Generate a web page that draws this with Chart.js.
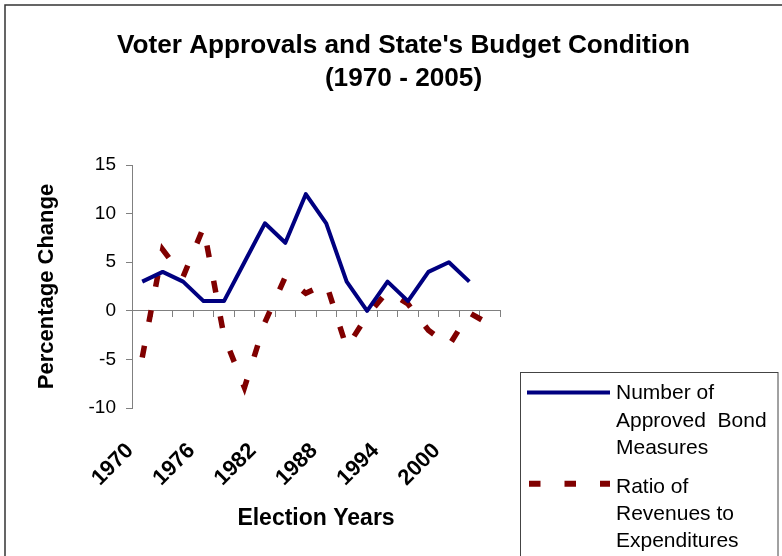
<!DOCTYPE html>
<html>
<head>
<meta charset="utf-8">
<title>Voter Approvals and State's Budget Condition</title>
<script src="https://cdn.jsdelivr.net/npm/chart.js@4.4.1/dist/chart.umd.min.js"></script>
<style>
  html, body { margin: 0; padding: 0; background: #fff; }
  #line-chart { display: block; }
</style>
</head>
<body>
<canvas id="line-chart" width="782" height="556"></canvas>
<script>
  // election years, every two years
  var years = ['1970', '1972', '1974', '1976', '1978', '1980', '1982', '1984', '1986',
               '1988', '1990', '1992', '1994', '1996', '1998', '2000', '2002', '2004'];
  // only every third year gets a label under the axis
  var year_labels = ['1970', '1976', '1982', '1988', '1994', '2000'];
  var bond_measures = [3, 4, 3, 1, 1, 5, 9, 7, 12, 9, 3, 0, 3, 1, 4, 5, 3, null];
  var revenue_ratio = [-4.8, 6.3, 3.5, 8.6, -2.6, -7.9, -1.2, 3.5, 1.8, 2.8, -3.8, -0.5, 2, 0.7, -2, -3.6, -0.2, -1.4];
  var y_ticks = [-10, -5, 0, 5, 10, 15];

  var judul = ["Voter Approvals and State's Budget Condition", '(1970 - 2005)'];
  var legend_bond = ['Number of', 'Approved  Bond', 'Measures'];
  var legend_ratio = ['Ratio of', 'Revenues to', 'Expenditures'];

  var font_name = '"Liberation Sans", Arial, Helvetica, sans-serif';
  var gray = '#808080';

  // frame, big title and the boxed legend are drawn by hand
  var frame_plugin = {
    id: 'frame',
    beforeDraw: function (chart) {
      var ctx = chart.ctx;
      ctx.save();
      ctx.fillStyle = '#fff';
      ctx.fillRect(0, 0, chart.width, chart.height);
      ctx.strokeStyle = '#333';
      ctx.lineWidth = 1.5;
      ctx.strokeRect(5, 5, chart.width + 20, chart.height + 20);

      ctx.fillStyle = '#000';
      ctx.font = 'bold 26.2px ' + font_name;
      ctx.textAlign = 'center';
      ctx.textBaseline = 'alphabetic';
      ctx.fillText(judul[0], 403.5, 53);
      ctx.fillText(judul[1], 403.5, 86);
      ctx.restore();
    },
    afterDraw: function (chart) {
      var ctx = chart.ctx;
      var ds = chart.data.datasets;
      ctx.save();
      ctx.strokeStyle = '#444';
      ctx.lineWidth = 1;
      ctx.strokeRect(520.5, 372.5, 257.5, 220);

      // blue solid sample
      ctx.strokeStyle = ds[0].borderColor;
      ctx.lineWidth = ds[0].borderWidth;
      ctx.beginPath();
      ctx.moveTo(527, 392.5);
      ctx.lineTo(610, 392.5);
      ctx.stroke();

      // red dashed sample
      ctx.strokeStyle = ds[1].borderColor;
      ctx.lineWidth = 6;
      ctx.setLineDash([11.5, 24]);
      ctx.beginPath();
      ctx.moveTo(529, 483.7);
      ctx.lineTo(610, 483.7);
      ctx.stroke();
      ctx.setLineDash([]);

      ctx.fillStyle = '#000';
      ctx.font = '21px ' + font_name;
      ctx.textAlign = 'left';
      ctx.textBaseline = 'alphabetic';
      for (var i = 0; i < legend_bond.length; i++) {
        ctx.fillText(legend_bond[i], 616, 399 + i * 27.6);
      }
      for (var j = 0; j < legend_ratio.length; j++) {
        ctx.fillText(legend_ratio[j], 616, 493.3 + j * 27);
      }
      ctx.restore();
    }
  };

  new Chart(document.getElementById('line-chart'), {
    type: 'line',
    data: {
      labels: years,
      datasets: [
        {
          label: 'Number of Approved Bond Measures',
          data: bond_measures,
          borderColor: '#000080',
          borderWidth: 4,
          borderJoinStyle: 'round',
          pointRadius: 0,
          tension: 0,
          fill: false
        },
        {
          label: 'Ratio of Revenues to Expenditures',
          data: revenue_ratio,
          borderColor: '#800000',
          borderWidth: 5.5,
          borderDash: [12, 24],
          borderCapStyle: 'butt',
          pointRadius: 0,
          tension: 0,
          fill: false
        }
      ]
    },
    options: {
      responsive: false,
      animation: false,
      devicePixelRatio: 1,
      layout: {
        padding: { left: 20, top: 165, right: 282, bottom: 0 }
      },
      plugins: {
        legend: { display: false },
        title: { display: false },
        tooltip: { enabled: false }
      },
      scales: {
        x: {
          type: 'category',
          position: 'bottom',
          offset: true,
          grid: { display: false, drawTicks: false },
          border: { display: false },
          ticks: {
            autoSkip: false,
            maxRotation: 45,
            minRotation: 45,
            padding: 30,
            labelOffset: -12,
            color: '#000',
            font: { family: font_name, size: 22, weight: 'bold' },
            callback: function (val, i) {
              return year_labels.indexOf(years[i]) >= 0 ? years[i] : '';
            }
          },
          title: {
            display: true,
            text: 'Election Years',
            color: '#000',
            font: { family: font_name, size: 23, weight: 'bold' },
            padding: { top: 0, bottom: 24 }
          },
          afterFit: function (scale) { scale.height = 148; }
        },
        // zero line with the small category ticks hanging below it
        x0: {
          type: 'category',
          axis: 'x',
          position: { y: 0 },
          offset: true,
          grid: {
            offset: true,
            drawOnChartArea: false,
            drawTicks: true,
            tickLength: 6,
            color: gray,
            tickColor: gray
          },
          border: { display: true, color: gray, width: 1 },
          ticks: { display: false },
          afterFit: function (scale) { scale.height = 0; }
        },
        y: {
          min: -10,
          max: 15,
          afterBuildTicks: function (scale) {
            scale.ticks = y_ticks.map(function (v) { return { value: v }; });
          },
          grid: {
            drawOnChartArea: false,
            drawTicks: true,
            tickLength: 6,
            color: gray,
            tickColor: gray
          },
          border: { display: true, color: gray, width: 1 },
          ticks: {
            padding: 10,
            color: '#000',
            font: { family: font_name, size: 19 }
          },
          title: {
            display: true,
            text: 'Percentage Change',
            color: '#000',
            font: { family: font_name, size: 22, weight: 'bold' },
            padding: { top: 14, bottom: 0 }
          },
          afterFit: function (scale) { scale.width = 112; }
        }
      }
    },
    plugins: [frame_plugin]
  });
</script>
</body>
</html>
